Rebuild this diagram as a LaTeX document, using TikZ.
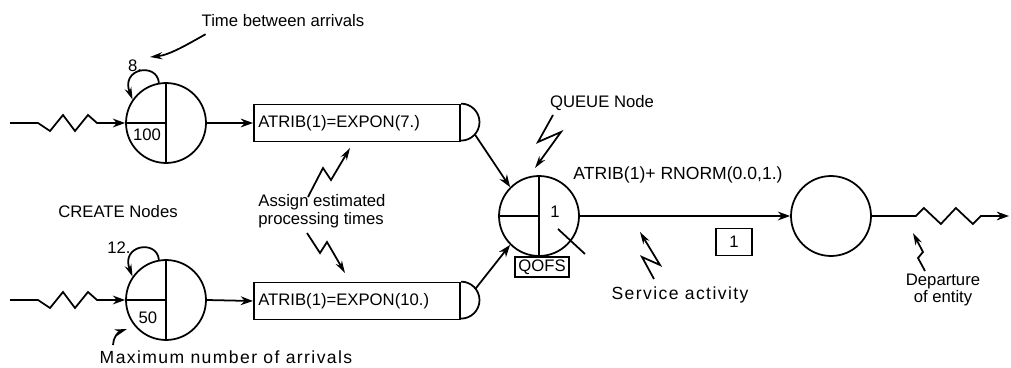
\documentclass[tikz,border=0pt]{standalone}
\usepackage{fontspec}
\setmainfont{Liberation Sans}
\newfontfamily\widefont[LetterSpace=8]{Liberation Sans}
\usetikzlibrary{arrows.meta,calc}
\tikzset{
    every node/.style={font=\fontsize{9.5}{10}\selectfont, inner sep=1pt}
}
\tikzset{
    slam/.style={circle, draw, line width=1pt, minimum size=1.6cm, inner sep=0pt},
    attbox/.style={rectangle, draw, line width=1pt, anchor=west, inner xsep=2.5pt,
        text width=3.95cm, minimum height=0.74cm, align=left},
    smallbox/.style={rectangle, draw, line width=0.8pt, inner sep=1pt},
    widenote/.style={font=\widefont\fontsize{10}{10}\selectfont},
    flow/.style={line width=1pt, -{Stealth[length=7pt,width=5pt]}},
    pointer/.style={line width=1pt, -{Stealth[length=7pt,width=4pt]}}
}

\begin{document}
\begin{tikzpicture}[x=0.02cm, y=-0.02cm]
  \useasboundingbox (0,0) rectangle (1011,368);

  \node (c1) [slam] at (166,123) {};
  \node (c2) [slam] at (166,300) {};
  \node (q) [slam] at (539,216) {};
  \node (f) [slam] at (831,216) {};
  \draw[line width=1pt] (c1.north) -- (c1.south) (c1.west) -- (c1.center);
  \draw[line width=1pt] (c2.north) -- (c2.south) (c2.west) -- (c2.center);
  \draw[line width=1pt] (q.north) -- (q.south) (q.west) -- (q.center);
  \draw[line width=1pt] ($(q)+(19,13)$) -- ++(27,25);

  \node (n100) at (147,135) {100};
  \node (n50) at (148,318) {50};
  \node (l8) at (135,66) {8.};
  \node (l12) at (119,248) {12.};
  \node (qone) at (555,212) {1};

  \node (a1) [attbox] at (253,123) {ATRIB(1)=EXPON(7.)};
  \node (a2) [attbox] at (253,301) {ATRIB(1)=EXPON(10.)};
  \draw[line width=1pt] (a1.north east) arc[start angle=90, end angle=-90, radius=0.37cm];
  \draw[line width=1pt] (a2.north east) arc[start angle=90, end angle=-90, radius=0.37cm];

  \node (qofs) [smallbox, minimum width=1.08cm, minimum height=0.4cm] at (542,267) {QOFS};
  \node (one) [smallbox, minimum width=0.72cm, minimum height=0.54cm] at (734,242) {1};

  \node (tba) [widenote, font=\fontsize{9.5}{10}\selectfont] at (283,21) {Time between arrivals};
  \node (cre) at (118,212) {CREATE Nodes};
  \node (max) [widenote] at (226,357) {Maximum number of arrivals};
  \node (asg) [align=left] at (322,211) {Assign estimated\\processing times};
  \node (qn) at (602,103) {QUEUE Node};
  \node (act) [font=\fontsize{10}{10}\selectfont] at (678,175) {ATRIB(1)+ RNORM(0.0,1.)};
  \node (svc) [widenote] at (680,295) {Service activity};
  \node (dep) [align=center] at (943,290) {Departure\\of entity};

  \coordinate (in1) at (10,123);
  \coordinate (in2) at (10,300);
  \coordinate (out) at (1009,216);
  \draw[flow] (in1) -- ++(28,0) -- ++(12,8) -- ++(13,-16) -- ++(12,16) -- ++(13,-16) -- ++(9,8) -- (c1.west);
  \draw[flow] (in2) -- ++(28,0) -- ++(12,8) -- ++(13,-16) -- ++(12,16) -- ++(13,-16) -- ++(9,8) -- (c2.west);
  \draw[flow] (c1.east) -- (a1.west);
  \draw[flow] (c2.east) -- (a2.west);
  \draw[flow] ($(a1.east)+(-40:0.37cm)$) -- (q.135);
  \draw[flow] ($(a2.east)+(40:0.37cm)$) -- (q.225);
  \draw[flow] (q.east) -- (f.west);
  \draw[flow] (f.east) -- ++(44,0) -- ++(8,-8) -- ++(17,16) -- ++(15,-16) -- ++(17,16) -- ++(8,-8) -- (out);

  \draw[pointer] (c1.100) .. controls (157,62) and (120,68) .. (c1.145);
  \draw[pointer] (c2.100) .. controls (157,239) and (120,245) .. (c2.145);

  \coordinate (t8) at (150,57);
  \coordinate (smax) at (113,345);
  \coordinate (tmax) at (127,329);
  \draw[pointer] ([shift={(6,5)}]tba.south west) .. controls (188,44) and (170,55) .. (t8);
  \draw[pointer] (smax) .. controls (113,338) and (118,332) .. (tmax);

  \coordinate (z1s) at (308,197);
  \coordinate (z1e) at (350,148);
  \coordinate (z2s) at (307,233);
  \coordinate (z2e) at (345,273);
  \coordinate (z3s) at (553,115);
  \coordinate (z3e) at (535,168);
  \coordinate (z4s) at (654,279);
  \coordinate (z4e) at (640,232);
  \coordinate (z5s) at (925,271);
  \coordinate (z5e) at (913,233);
  \draw[pointer] (z1s) -- (323,168) -- (331,180) -- (z1e);
  \draw[pointer] (z2s) -- (320,253) -- (327,242) -- (z2e);
  \draw[pointer] (z3s) -- (538,142) -- (561,132) -- (z3e);
  \draw[pointer] (z4s) -- (642,257) -- (660,265) -- (z4e);
  \draw[pointer] (z5s) -- (918,258) -- (923,252) -- (z5e);
\end{tikzpicture}
\end{document}
